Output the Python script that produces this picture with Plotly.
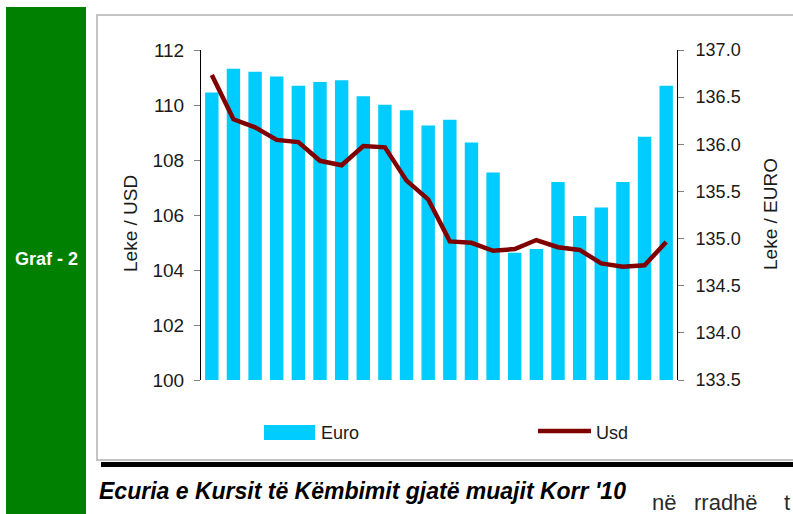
import plotly.graph_objects as go

# ---- data ----
days = ["01.07", "02.07", "05.07", "06.07", "07.07", "08.07", "09.07", "12.07",
        "13.07", "14.07", "15.07", "16.07", "19.07", "20.07", "21.07", "22.07",
        "23.07", "26.07", "27.07", "28.07", "29.07", "30.07"]
euro = [136.55, 136.80, 136.77, 136.72, 136.62, 136.66, 136.68, 136.51, 136.42,
        136.36, 136.20, 136.26, 136.02, 135.70, 134.85, 134.89, 135.60, 135.24,
        135.33, 135.60, 136.08, 136.62]
usd = [111.09, 109.48, 109.19, 108.73, 108.65, 107.97, 107.81, 108.51, 108.46,
       107.25, 106.57, 105.04, 104.99, 104.70, 104.76, 105.09, 104.83, 104.73,
       104.24, 104.12, 104.17, 105.02]
usd_ticks = [100, 102, 104, 106, 108, 110, 112]
euro_ticks = [133.5, 134.0, 134.5, 135.0, 135.5, 136.0, 136.5, 137.0]

W, H = 793, 514
L, R, T, B = 201, 677, 50, 380
PW, PH = R - L, B - T


def fx(px):
    return (px - L) / PW


def fy(py):
    return (B - py) / PH


FONT = "Liberation Sans, Arial, sans-serif"
BAR_C = "#00CCFF"
LINE_C = "#800000"
TXT_C = "#1a1a1a"

fig = go.Figure()
fig.add_trace(go.Bar(x=days, y=euro, name="Euro", marker_color=BAR_C,
                     marker_line_width=0, width=0.62, yaxis="y",
                     showlegend=False))
fig.add_trace(go.Scatter(x=days, y=usd, name="Usd", mode="lines",
                         line=dict(color=LINE_C, width=4.5), yaxis="y2",
                         showlegend=False))

shapes = [
    # green side panel
    dict(type="rect", xref="paper", yref="paper", x0=fx(6), x1=fx(86),
         y0=fy(7), y1=fy(520), fillcolor="#008000", line_width=0, layer="below"),
    # chart frame
    dict(type="rect", xref="paper", yref="paper", x0=fx(97), x1=fx(805),
         y0=fy(15), y1=fy(460), fillcolor="rgba(0,0,0,0)",
         line=dict(color="#c4c4c4", width=2), layer="below"),
    # black rule under frame
    dict(type="rect", xref="paper", yref="paper", x0=fx(101), x1=fx(800),
         y0=fy(462), y1=fy(467), fillcolor="#000000", line_width=0),
    # legend swatches
    dict(type="rect", xref="paper", yref="paper", x0=fx(264), x1=fx(315),
         y0=fy(425), y1=fy(440), fillcolor=BAR_C, line_width=0),
    dict(type="line", xref="paper", yref="paper", x0=fx(538), x1=fx(591),
         y0=fy(431), y1=fy(431), line=dict(color=LINE_C, width=4.5)),
]


def ann(text, x, y, xa="center", ya="middle", size=18, color=TXT_C, **kw):
    font = dict(family=FONT, size=size, color=color)
    font.update(kw.pop("font_extra", {}))
    d = dict(text=text, x=fx(x), y=fy(y), xref="paper", yref="paper",
             xanchor=xa, yanchor=ya, showarrow=False, font=font)
    d.update(kw)
    return d


annotations = [
    ann("Graf - 2", 46, 259, size=18, color="white",
        font_extra=dict(weight="bold")),
    ann("Leke / USD", 130, 224, size=19, textangle=-90),
    ann("Leke / EURO", 770, 214, size=19, textangle=-90),
    ann("Euro", 319, 433, xa="left", size=18),
    ann("Usd", 594, 433, xa="left", size=18),
    ann("Ecuria e Kursit të Këmbimit gjatë muajit Korr '10", 97, 491, xa="left",
        size=23, color="#000000", font_extra=dict(weight="bold", style="italic")),
    ann("në", 650, 502, xa="left", size=22, color="#2a2a2a"),
    ann("rradhë", 692, 502, xa="left", size=22, color="#2a2a2a"),
    ann("t", 782, 502, xa="left", size=22, color="#2a2a2a"),
]

fig.update_layout(
    width=W, height=H, autosize=False,
    margin=dict(l=L, r=W - R, t=T, b=H - B, pad=0),
    paper_bgcolor="white", plot_bgcolor="white",
    xaxis=dict(type="category", range=[-0.5, 21.5], showticklabels=False,
               ticks="", showline=False, showgrid=False, zeroline=False),
    yaxis=dict(side="right", range=[133.5, 137.0], tickvals=euro_ticks,
               tickformat=".1f", ticks="outside", ticklen=6, tickcolor="#808080",
               showline=True, linecolor="#000000", linewidth=1,
               showgrid=False, zeroline=False, ticklabelstandoff=8,
               tickfont=dict(family=FONT, size=18, color=TXT_C)),
    yaxis2=dict(side="left", overlaying="y", range=[100, 112], tickvals=usd_ticks,
                ticks="outside", ticklen=6, tickcolor="#808080",
                showline=True, linecolor="#000000", linewidth=1,
                showgrid=False, zeroline=False, ticklabelstandoff=6,
                tickfont=dict(family=FONT, size=19, color=TXT_C)),
    shapes=shapes, annotations=annotations,
)

fig.write_html("out.html",
               config={"displayModeBar": False},
               post_script="document.body.style.margin='0';"
                           "document.body.style.overflow='hidden';")
